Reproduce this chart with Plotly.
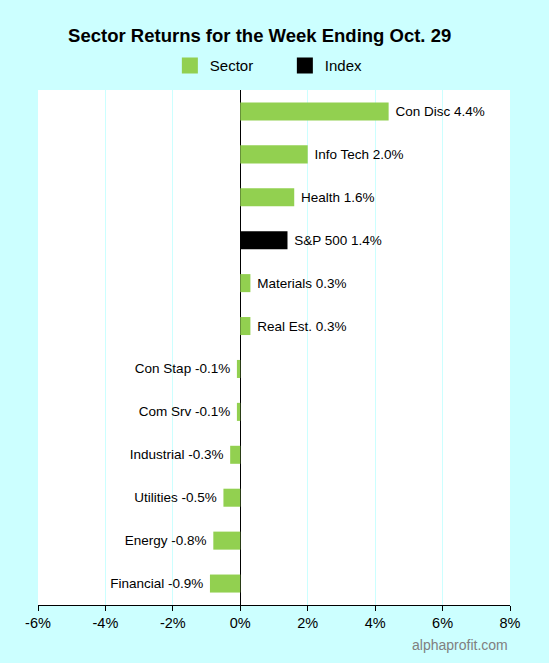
import plotly.graph_objects as go

categories = ["Con Disc", "Info Tech", "Health", "S&P 500", "Materials", "Real Est.",
              "Con Stap", "Com Srv", "Industrial", "Utilities", "Energy", "Financial"]
values = [4.4, 2.0, 1.6, 1.4, 0.3, 0.3, -0.1, -0.1, -0.3, -0.5, -0.8, -0.9]
groups = ["Sector", "Sector", "Sector", "Index", "Sector", "Sector",
          "Sector", "Sector", "Sector", "Sector", "Sector", "Sector"]
tick_vals = [-6, -4, -2, 0, 2, 4, 6, 8]
tick_text = ["-6%", "-4%", "-2%", "0%", "2%", "4%", "6%", "8%"]

colors = {"Sector": "#92D050", "Index": "#000000"}
FONT = "Liberation Sans, Arial, sans-serif"
NB = "\u00a0"


def label(name, v):
    s = f"{name} {v:.1f}%"
    return NB + s if v >= 0 else s + NB


fig = go.Figure()
for g in ["Sector", "Index"]:
    idx = [i for i, gg in enumerate(groups) if gg == g]
    fig.add_trace(go.Bar(
        x=[values[i] for i in idx],
        y=[categories[i] for i in idx],
        orientation="h",
        name=g,
        showlegend=False,
        marker=dict(color=colors[g], line=dict(width=0)),
        text=[label(categories[i], values[i]) for i in idx],
        textposition="outside",
        textfont=dict(family=FONT, size=13.5, color="black"),
        cliponaxis=False,
        width=0.42,
        hoverinfo="skip",
    ))
# legend entries
for g in ["Sector", "Index"]:
    fig.add_trace(go.Scatter(
        x=[None], y=[None], mode="markers", name=g,
        marker=dict(symbol="square", size=18, color=colors[g]),
        showlegend=True, hoverinfo="skip",
    ))

fig.update_layout(
    width=549, height=663,
    paper_bgcolor="#CCFFFF",
    plot_bgcolor="white",
    margin=dict(l=38, r=39, t=90, b=58),
    title=dict(text="<b>Sector Returns for the Week Ending Oct. 29</b>",
               xref="container", x=0.473, xanchor="center", y=0.946, yanchor="middle",
               font=dict(family=FONT, size=18.5, color="black")),
    legend=dict(orientation="h", x=0.523, xanchor="center", y=1.047, yanchor="middle",
                font=dict(family=FONT, size=15, color="black"),
                bgcolor="rgba(0,0,0,0)", itemwidth=30, traceorder="normal",
                entrywidth=70, entrywidthmode="pixels"),
    showlegend=True,
    font=dict(family=FONT),
)
fig.update_xaxes(range=[-6, 8], tickvals=tick_vals, ticktext=tick_text,
                 showgrid=True, gridcolor="#CCFFFF", gridwidth=1,
                 zeroline=True, zerolinecolor="black", zerolinewidth=1,
                 showline=True, linecolor="black", linewidth=1,
                 ticks="outside", ticklen=5, tickcolor="black",
                 tickfont=dict(family=FONT, size=14.5, color="black"))
fig.update_yaxes(categoryorder="array", categoryarray=categories[::-1],
                 showticklabels=False, showgrid=False, ticks="", range=[-0.5, 11.5])
fig.add_annotation(text="alphaprofit.com", xref="paper", yref="paper",
                   x=1.0, y=-0.078, xanchor="right", yanchor="middle", showarrow=False,
                   font=dict(family=FONT, size=14, color="#808080"))

fig.write_html("out.html", config={"displayModeBar": False},
               post_script="document.body.style.margin='0';document.body.style.background='#CCFFFF';")
